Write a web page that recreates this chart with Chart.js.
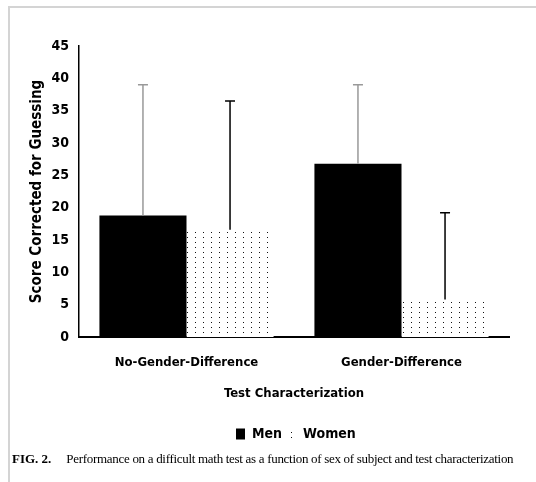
<!DOCTYPE html>
<html><head><meta charset="utf-8">
<script src="https://cdn.jsdelivr.net/npm/chart.js@4/dist/chart.umd.min.js"></script>
<style>
html,body{margin:0;padding:0;background:#fff;}
#wrap{position:relative;width:536px;height:482px;overflow:hidden;}
#frame{position:absolute;left:8px;top:6px;width:540px;height:490px;border-top:2px solid #d4d4d4;border-left:2px solid #d4d4d4;}
canvas{position:absolute;left:0;top:0;}
#cap{position:absolute;left:12px;top:451px;font-family:"Liberation Serif","Times New Roman",serif;font-size:13px;letter-spacing:-0.3px;white-space:nowrap;color:#000;}
#cap b{margin-right:12px;letter-spacing:0;}
</style></head>
<body><div id="wrap"><div id="frame"></div><canvas id="c" width="536" height="482"></canvas>
<div id="cap"><b>FIG. 2.</b> Performance on a difficult math test as a function of sex of subject and test characterization</div></div>
<script>
const categories = ["No-Gender-Difference", "Gender-Difference"];
const menValues = [18.8, 26.8];
const womenValues = [16.6, 5.8];
const menErrorTop = [39.0, 39.0];
const womenErrorTop = [36.5, 19.2];
const yTicks = [0,5,10,15,20,25,30,35,40,45];

function dotPattern(){
  const p = document.createElement('canvas');
  p.width = 8; p.height = 5;
  const g = p.getContext('2d');
  g.fillStyle = '#fff'; g.fillRect(0,0,8,5);
  g.fillStyle = '#111';
  g.fillRect(3,2,1,1);
  return g.createPattern(p,'repeat');
}
const ctx = document.getElementById('c').getContext('2d');
const pat = dotPattern();
const cond = {family:"'DejaVu Sans Condensed',sans-serif", weight:'bold'};

const errorBars = {
  id:'errorBars',
  afterDatasetsDraw(chart){
    const y = chart.scales.y, c = chart.ctx;
    const tops = [menErrorTop, womenErrorTop];
    const cols = ['#999999','#000000'];
    chart.data.datasets.forEach((ds,di)=>{
      const meta = chart.getDatasetMeta(di);
      meta.data.forEach((bar,i)=>{
        const yt = y.getPixelForValue(tops[di][i]);
        c.save();
        c.strokeStyle = cols[di]; c.lineWidth = 1.5;
        c.beginPath();
        c.moveTo(bar.x, bar.y); c.lineTo(bar.x, yt);
        c.moveTo(bar.x-5, yt); c.lineTo(bar.x+5, yt);
        c.stroke(); c.restore();
      });
    });
  }
};

new Chart(ctx,{
  type:'bar',
  data:{labels:categories,datasets:[
    {label:'Men',data:menValues,backgroundColor:'#000',borderWidth:0},
    {label:'Women',data:womenValues,backgroundColor:pat,borderWidth:0}
  ]},
  options:{
    responsive:false,animation:false,
    layout:{padding:{left:24,right:27,top:46,bottom:31}},
    datasets:{bar:{categoryPercentage:0.81,barPercentage:1}},
    plugins:{
      tooltip:{enabled:false},
      legend:{position:'bottom',labels:{
        font:{...cond,size:14},color:'#000',boxWidth:9,boxHeight:11,padding:5,
        generateLabels(){return [
          {text:'\u2003\u2003\u2003',fillStyle:'rgba(0,0,0,0)',strokeStyle:'rgba(0,0,0,0)',fontColor:'rgba(0,0,0,0)',lineWidth:0},
          {text:'Men',fillStyle:'#000',strokeStyle:'#000',fontColor:'#000',lineWidth:0,datasetIndex:0},
          {text:'Women',fillStyle:pat,strokeStyle:'rgba(0,0,0,0)',fontColor:'#000',lineWidth:0,datasetIndex:1}
        ];}
      }}
    },
    scales:{
      x:{
        grid:{display:false,drawTicks:false},
        border:{color:'#000',width:2},
        ticks:{font:{...cond,size:13},color:'#000',padding:18,maxRotation:0},
        title:{display:true,text:'Test Characterization',font:{...cond,size:13},color:'#000',padding:{top:0,bottom:21}},
        afterFit(s){s.height = 85;}
      },
      y:{
        min:0,max:45,
        afterBuildTicks(s){s.ticks = yTicks.map(v=>({value:v}));},
        grid:{display:false,drawTicks:false},
        border:{color:'#000',width:1.5},
        ticks:{font:{...cond,size:14},color:'#000',padding:10},
        title:{display:true,text:'Score Corrected for Guessing',font:{...cond,size:15},color:'#000',padding:{bottom:4}},
        afterFit(s){s.width = 55;}
      }
    }
  },
  plugins:[errorBars]
});
</script></body></html>
